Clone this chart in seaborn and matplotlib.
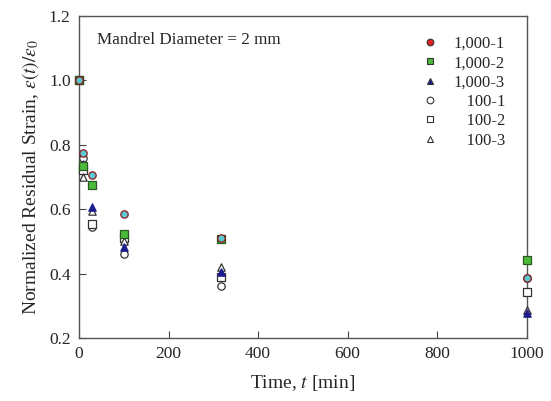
import numpy as np
import pandas as pd
import matplotlib
matplotlib.use("Agg")
import matplotlib.pyplot as plt
import seaborn as sns

# residual strain vs. time, mandrel diameter 2 mm
time_min = [0, 10, 30, 100, 316, 1000]

s_1000_1 = [1.0, 0.775, 0.705, 0.584, 0.510, 0.387]
s_1000_2 = [1.0, 0.733, 0.675, 0.522, 0.508, 0.442]
s_1000_3 = [1.0, 0.742, 0.607, 0.483, 0.405, 0.278]
s_100_1 = [1.0, 0.758, 0.545, 0.460, 0.362, 0.385]
s_100_2 = [1.0, 0.722, 0.555, 0.510, 0.390, 0.344]
s_100_3 = [1.0, 0.700, 0.594, 0.500, 0.420, 0.287]

labels = ["1,000-1", "1,000-2", "1,000-3", "100-1", "100-2", "100-3"]
series = [s_1000_1, s_1000_2, s_1000_3, s_100_1, s_100_2, s_100_3]

sns.set_style("ticks")
plt.rcParams["font.family"] = ["Liberation Serif", "DejaVu Serif"]
plt.rcParams["mathtext.fontset"] = "stix"
plt.rcParams["xtick.direction"] = "in"
plt.rcParams["ytick.direction"] = "in"

df = pd.DataFrame({
    "t": np.tile(time_min, len(labels)),
    "strain": np.concatenate(series),
    "sample": np.repeat(labels, len(time_min)),
})

# marker, face, edge (plot) and legend face
styles = {
    "1,000-1": ("o", "#5cc8d2", "#8b1a1a", "#e02020"),
    "1,000-2": ("s", "#4cbb3c", "#2a5a20", "#4cbb3c"),
    "1,000-3": ("^", "#1c1c8c", "#1c1c8c", "#1c1c8c"),
    "100-1": ("o", "white", "#333333", "white"),
    "100-2": ("s", "white", "#333333", "white"),
    "100-3": ("^", "white", "#333333", "white"),
}

fig = plt.figure(figsize=(5.51, 4.01), dpi=100)
ax = fig.add_axes([0.1434, 0.157, 0.8126, 0.803])

draw_order = ["100-1", "100-2", "100-3", "1,000-3", "1,000-2", "1,000-1"]
for lab in draw_order:
    m, fc, ec, _ = styles[lab]
    sub = df[df["sample"] == lab]
    sns.scatterplot(data=sub, x="t", y="strain", marker=m, s=28,
                    color=fc, edgecolor=ec, linewidth=0.9, ax=ax,
                    clip_on=False, zorder=3)

ax.set_xlim(0, 1000)
ax.set_ylim(0.2, 1.2)
ax.set_xticks(np.arange(0, 1001, 200))
ax.set_yticks(np.arange(0.2, 1.21, 0.2))
ax.set_yticklabels([f"{v:.1f}" for v in np.arange(0.2, 1.21, 0.2)])
ax.tick_params(labelsize=12.5, length=5, width=0.8, color="#444444", pad=6)
for sp in ax.spines.values():
    sp.set_color("#555555")
    sp.set_linewidth(1.0)

ax.set_xlabel("Time, $t$ [min]", fontsize=14, labelpad=8)
ax.set_ylabel(r"Normalized Residual Strain, $\varepsilon(t)/\varepsilon_0$",
              fontsize=14, labelpad=6)

ax.text(0.04, 0.925, "Mandrel Diameter = 2 mm", transform=ax.transAxes,
        fontsize=12.3, va="center", ha="left")

# legend with right-aligned labels
pad = {"1,000-1": "", "1,000-2": "", "1,000-3": "",
       "100-1": "\u2007\u2008", "100-2": "\u2007\u2008", "100-3": "\u2007\u2008"}
handles = []
for lab in labels:
    m, _, ec, lfc = styles[lab]
    if lab.startswith("1,000"):
        ec = "#333333"
    h = plt.Line2D([], [], ls="none", marker=m, markersize=4.8,
                   markerfacecolor=lfc, markeredgecolor=ec, markeredgewidth=0.8,
                   label=pad[lab] + lab)
    handles.append(h)
ax.legend(handles=handles, loc="upper right", bbox_to_anchor=(0.985, 0.985),
          frameon=False, fontsize=12, handletextpad=0.9, labelspacing=0.2,
          handlelength=1.0)

fig.savefig("out.png", dpi=100)
